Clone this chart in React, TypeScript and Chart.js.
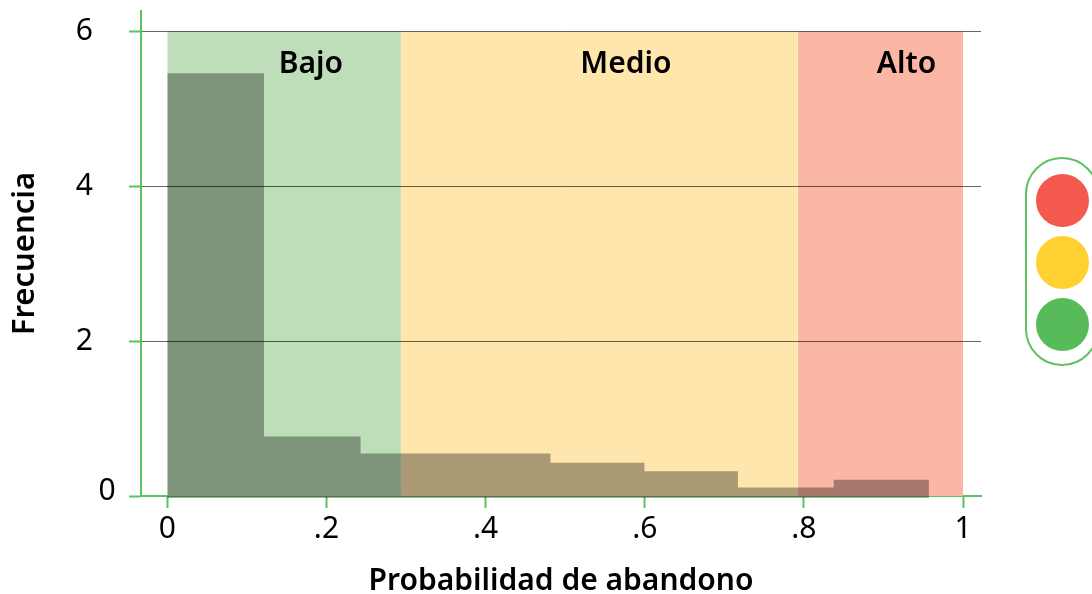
import React, { useEffect, useRef } from "react";
import Chart from "chart.js/auto";

const FONT = "'Noto Sans', sans-serif";
const AXIS_GREEN = "#5CC161";

// Histogram of predicted churn probability: bin edges and bar heights
const binEdges = [0, 0.1215, 0.2429, 0.3644, 0.4816, 0.5996, 0.7171, 0.8375, 0.9572];
const binHeights = [5.46, 0.77, 0.55, 0.55, 0.43, 0.32, 0.11, 0.21, 0];

// Risk bands shaded behind the histogram
const zoneNames = ["Bajo", "Medio", "Alto"];
const zoneStarts = [0, 0.2936, 0.7923];
const zoneEnds = [0.2936, 0.7923, 1];
const zoneColors = ["#BEDEB9", "#FFE6AC", "#FBB6A4"];
const zoneLabelX = [0.1805, 0.5763, 0.929];
const zoneTop = 6;
const zoneLabelY = 5.58;

const xTickValues = [0, 0.2, 0.4, 0.6, 0.8, 1];
const xTickLabels = ["0", ".2", ".4", ".6", ".8", "1"];
const yTickValues = [0, 2, 4, 6];

const xTitle = "Probabilidad de abandono";
const yTitle = "Frecuencia";
const lampColors = ["#F3594D", "#FFD02F", "#57BB5A"];

const HIST_FILL = "rgba(0,0,0,0.335)";

// Band names, the "0" label that sits closer to the axis, and the shade of the
// histogram over the axis line
const annotations = {
  id: "annotations",
  afterDraw(chart: any) {
    const { ctx, scales, chartArea } = chart;
    ctx.save();
    ctx.fillStyle = HIST_FILL;
    const x0 = scales.x.getPixelForValue(binEdges[0]);
    const x1 = scales.x.getPixelForValue(binEdges[binEdges.length - 1]);
    ctx.fillRect(x0, chartArea.bottom, x1 - x0, 2);
    ctx.fillStyle = "#000";
    ctx.textAlign = "center";
    ctx.textBaseline = "middle";
    ctx.font = `600 30px ${FONT}`;
    zoneNames.forEach((name, i) => {
      ctx.fillText(name, scales.x.getPixelForValue(zoneLabelX[i]), scales.y.getPixelForValue(zoneLabelY));
    });
    ctx.font = `400 30px ${FONT}`;
    ctx.fillText("0", 107, scales.y.getPixelForValue(0) - 5);
    ctx.restore();
  },
};

export default function App() {
  const ref = useRef<HTMLCanvasElement>(null);

  useEffect(() => {
    document.body.style.margin = "0";
    const zoneSets = zoneNames.map((name, i) => ({
      label: name,
      data: [
        { x: zoneStarts[i], y: zoneTop },
        { x: zoneEnds[i], y: zoneTop },
      ],
      borderWidth: 0,
      pointRadius: 0,
      backgroundColor: zoneColors[i],
      fill: "origin",
      order: 2,
    }));
    const chart = new Chart(ref.current!, {
      type: "line",
      data: {
        datasets: [
          {
            label: yTitle,
            data: binEdges.map((x, i) => ({ x, y: binHeights[i] })),
            stepped: "before",
            borderWidth: 0,
            pointRadius: 0,
            backgroundColor: HIST_FILL,
            fill: "origin",
            order: 1,
          },
          ...zoneSets,
        ] as any,
      },
      options: {
        responsive: false,
        animation: false,
        layout: { padding: { top: 11, right: 111, left: 0, bottom: 0 } },
        plugins: { legend: { display: false }, tooltip: { enabled: false } },
        scales: {
          x: {
            type: "linear",
            min: -0.03305,
            max: 1.0226,
            afterBuildTicks: (scale: any) => {
              scale.ticks = xTickValues.map((value) => ({ value }));
            },
            afterFit: (scale: any) => {
              scale.height = 98;
            },
            grid: {
              drawOnChartArea: false,
              tickColor: AXIS_GREEN,
              tickLength: 12,
              tickWidth: 2,
            },
            border: { color: AXIS_GREEN, width: 2 },
            ticks: {
              autoSkip: false,
              maxRotation: 0,
              color: "#000",
              padding: 3,
              font: { family: FONT, size: 30 },
              callback: (value: any) => xTickLabels[xTickValues.indexOf(value)],
            },
            title: {
              display: true,
              text: xTitle,
              color: "#000",
              padding: { top: 0, bottom: -5 },
              font: { family: FONT, size: 30, weight: "600" },
            },
          },
          y: {
            type: "linear",
            min: 0,
            max: 6.265,
            afterBuildTicks: (scale: any) => {
              scale.ticks = yTickValues.map((value) => ({ value }));
            },
            afterFit: (scale: any) => {
              scale.width = 141;
              scale.paddingTop = 0;
              scale.paddingBottom = 0;
            },
            grid: {
              z: 1,
              color: (c: any) => (c.tick && c.tick.value === 0 ? "transparent" : "rgba(0,0,0,0.6)"),
              tickColor: AXIS_GREEN,
              tickLength: 12,
              tickWidth: 2,
              lineWidth: 1,
            },
            border: { color: AXIS_GREEN, width: 2, z: 1 },
            ticks: {
              autoSkip: false,
              color: "#000",
              padding: 36,
              font: { family: FONT, size: 30 },
              callback: (value: any) => (value === 0 ? "" : String(value)),
            },
            title: {
              display: true,
              text: yTitle,
              color: "#000",
              padding: { top: 7, bottom: 0 },
              font: { family: FONT, size: 31, weight: "600" },
            },
          },
        },
      } as any,
      plugins: [annotations],
    });
    return () => chart.destroy();
  }, []);

  return (
    <div style={{ position: "relative", width: 1092, height: 594, overflow: "hidden" }}>
      <canvas ref={ref} width={1092} height={594} style={{ display: "block" }} />
      <div
        style={{
          position: "absolute",
          left: 1025,
          top: 157,
          width: 74,
          height: 209,
          boxSizing: "border-box",
          border: `2.5px solid ${AXIS_GREEN}`,
          borderRadius: 37,
        }}
      />
      {lampColors.map((color, i) => (
        <div
          key={color}
          style={{
            position: "absolute",
            left: 1035.5,
            top: 173.5 + i * 62.1,
            width: 53.4,
            height: 53.4,
            borderRadius: "50%",
            background: color,
          }}
        />
      ))}
    </div>
  );
}
